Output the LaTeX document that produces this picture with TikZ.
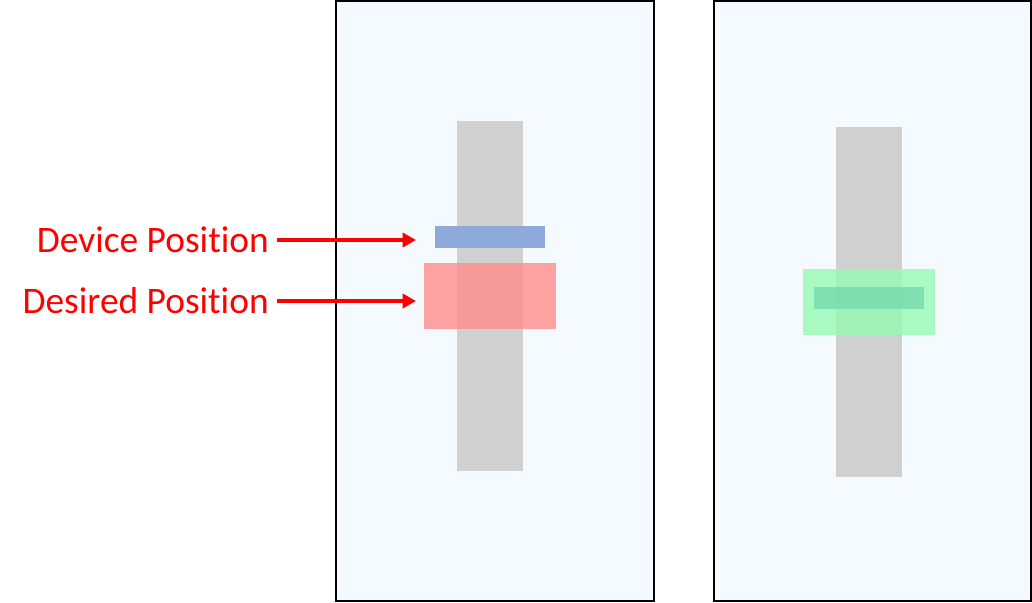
\documentclass[tikz,border=0pt]{standalone}
\usepackage{fontspec}
\setmainfont{Carlito}
\usetikzlibrary{arrows.meta, positioning}
\definecolor{panelbg}{RGB}{245,250,254}
\definecolor{bargray}{RGB}{208,208,208}
\definecolor{devblue}{RGB}{142,170,219}
\definecolor{wantred}{RGB}{255,140,140}
\definecolor{okgreen}{RGB}{150,250,180}
\definecolor{okgreen2}{RGB}{110,215,170}
\newcommand{\posword}{Posit\kern0pt ion}
\tikzset {
    x=0.025cm, y=-0.025cm,
    panel/.style={draw=black, line width=1.5pt, fill=panelbg},
    label/.style={text=red, font=\fontsize{26.6}{30}\selectfont, inner sep=0pt, anchor=east},
    pointer/.style={draw=red, line width=2.6pt, -{Triangle[length=9.5pt, width=10pt]}}
}

\begin{document}
\begin{tikzpicture}
    \useasboundingbox (0,0) rectangle (1032,603);

    % left panel
    \draw[panel] (336,1) rectangle (654,601);
    \fill[bargray] (457,121) rectangle (523,471);
    \fill[devblue] (435,226) rectangle (545,248);
    \fill[wantred, opacity=0.8] (424,263) rectangle (556,329);

    % right panel
    \draw[panel] (714,1) rectangle (1031,601);
    \fill[bargray] (836,127) rectangle (902,477);
    \fill[okgreen, opacity=0.8] (803,269) rectangle (935,335);
    \fill[okgreen2, opacity=0.7] (814,287) rectangle (924,309);

    % labels
    \node[label] (device) at (269,240) {Device \posword};
    \node[label] (desired) at (269,301) {Desired \posword};
    \coordinate (devtip) at (416,240);
    \coordinate (destip) at (416,301);

    \draw[pointer] ([xshift=6pt]device.east) -- (devtip);
    \draw[pointer] ([xshift=6pt]desired.east) -- (destip);
\end{tikzpicture}
\end{document}
